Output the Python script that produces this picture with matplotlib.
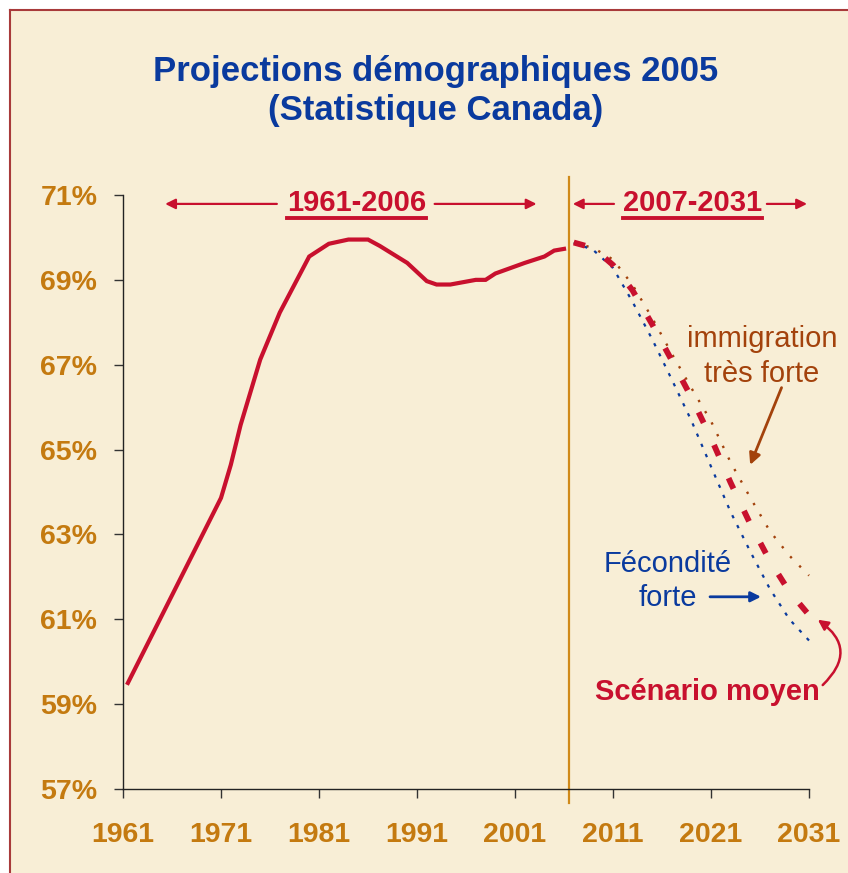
import matplotlib
matplotlib.use("Agg")
import matplotlib.pyplot as plt
import matplotlib.patches as patches
from matplotlib.lines import Line2D

plt.rcParams['font.family'] = ['Liberation Sans', 'DejaVu Sans']

# historical ratio (%), 1961-2006
hist_years = [1961.5, 1971, 1972, 1973, 1975, 1977, 1980, 1982, 1984, 1986,
              1987.2, 1990, 1992, 1993, 1994.4, 1997, 1998, 1999, 2002, 2004,
              2005, 2006]
hist_values = [59.5, 63.86, 64.64, 65.58, 67.12, 68.23, 69.55, 69.85, 69.95, 69.95,
               69.8, 69.4, 68.97, 68.89, 68.89, 69.0, 69.0, 69.15, 69.4, 69.55,
               69.69, 69.73]

# projections 2007-2031
proj_years = [2007, 2009, 2011, 2013, 2015, 2017, 2019, 2021, 2023, 2025, 2027, 2029, 2031]
moyen = [69.88, 69.75, 69.35, 68.75, 67.95, 67.1, 66.23, 65.27, 64.22, 63.25, 62.38, 61.65, 61.1]
immigration = [69.88, 69.75, 69.48, 68.88, 68.1, 67.26, 66.45, 65.67, 64.7, 63.87, 63.08, 62.5, 62.03]
fecondite = [69.88, 69.7, 69.28, 68.48, 67.6, 66.65, 65.68, 64.6, 63.53, 62.6, 61.72, 61.0, 60.5]

x_ticks = [1961, 1971, 1981, 1991, 2001, 2011, 2021, 2031]
y_ticks = [57, 59, 61, 63, 65, 67, 69, 71]

RED = '#C8102E'
BLUE = '#0A3A9E'
BROWN = '#A3420C'
ORANGE = '#C47A10'
BG = '#F8EED6'

W, H = 848, 873
fig = plt.figure(figsize=(W / 100, H / 100), dpi=100, facecolor='white')

# cream panel with dark red border on top / left (behind the axes)
fig.patches.append(patches.Rectangle((10 / W, 0), 1 - 10 / W, 1 - 10 / H,
                                     transform=fig.transFigure, fc=BG, ec='none', zorder=-5))
fig.lines.append(Line2D([10 / W, 10 / W], [0, 1 - 10 / H], transform=fig.transFigure,
                        color='#A83A3A', lw=1.5, zorder=-4))
fig.lines.append(Line2D([10 / W, 1], [1 - 10 / H, 1 - 10 / H], transform=fig.transFigure,
                        color='#A83A3A', lw=1.5, zorder=-4))

ax = fig.add_axes([123 / W, 1 - 789 / H, (809 - 123) / W, (789 - 195) / H])
ax.set_facecolor('none')
ax.set_xlim(1961, 2031)
ax.set_ylim(57, 71)

ax.plot(hist_years, hist_values, color=RED, lw=3, solid_joinstyle='miter')
ax.plot(proj_years, immigration, color=BROWN, lw=1.7, linestyle=(0, (1, 4.5)), clip_on=False)
ax.plot(proj_years, fecondite, color=BLUE, lw=1.6, linestyle=(0, (1.5, 3.5)), clip_on=False)
ax.plot(proj_years, moyen, color=RED, lw=4.2, linestyle=(0, (2, 4.2)), clip_on=False)

ax.axvline(2006.5, ymin=-0.024, ymax=1.03, color='#D08A1A', lw=1.6, clip_on=False)

for s in ['top', 'right']:
    ax.spines[s].set_visible(False)
for s in ['left', 'bottom']:
    ax.spines[s].set_color('#222222')
    ax.spines[s].set_linewidth(1.0)

ax.set_xticks(x_ticks)
ax.set_yticks(y_ticks)
ax.set_yticklabels(['{0}%'.format(v) for v in y_ticks])
ax.tick_params(axis='both', direction='out', length=6.5, width=1, color='#333333',
               labelcolor=ORANGE, labelsize=20.5)
ax.tick_params(axis='y', pad=12)
ax.tick_params(axis='x', pad=17)
for lab in ax.get_xticklabels() + ax.get_yticklabels():
    lab.set_fontweight('bold')

# title
fig.text(436 / W, 1 - 91 / H, 'Projections démographiques 2005\n(Statistique Canada)',
         ha='center', va='center', fontsize=25, fontweight='bold', color=BLUE,
         linespacing=1.25)

# period labels with arrows
t1 = ax.text(1984.8, 70.82, '1961-2006', ha='center', va='center', fontsize=21,
             fontweight='bold', color=RED)
t2 = ax.text(2019.1, 70.82, '2007-2031', ha='center', va='center', fontsize=21,
             fontweight='bold', color=RED)
arrow = dict(arrowstyle='-|>', color=RED, lw=1.6, mutation_scale=15, shrinkA=0, shrinkB=0)
for start, end in [(1976.7, 1965.3), (1992.8, 2003.2), (2011.1, 2006.9), (2026.7, 2030.8)]:
    ax.annotate('', xy=(end, 70.79), xytext=(start, 70.79), arrowprops=arrow,
                annotation_clip=False)

# series labels
ax.text(2026.2, 67.2, 'immigration\ntrès forte', ha='center', va='center',
        fontsize=21, color=BROWN, linespacing=1.3)
ax.annotate('', xy=(2025.0, 64.64), xytext=(2028.2, 66.46),
            arrowprops=dict(arrowstyle='-|>', color=BROWN, lw=2, mutation_scale=17,
                            shrinkA=0, shrinkB=0))

ax.text(2016.6, 61.9, 'Fécondité\nforte', ha='center', va='center',
        fontsize=21, color=BLUE, linespacing=1.3)
ax.annotate('', xy=(2026.1, 61.53), xytext=(2020.9, 61.53),
            arrowprops=dict(arrowstyle='-|>', color=BLUE, lw=2, mutation_scale=15,
                            shrinkA=0, shrinkB=0))

ax.text(2020.6, 59.29, 'Scénario moyen', ha='center', va='center',
        fontsize=21, fontweight='bold', color=RED)
ax.annotate('', xy=(2031.9, 60.99), xytext=(2032.4, 59.45),
            arrowprops=dict(arrowstyle='-|>', color=RED, lw=1.8, mutation_scale=15,
                            shrinkA=0, shrinkB=0, connectionstyle='arc3,rad=0.6'),
            annotation_clip=False)

# underline the period labels
fig.canvas.draw()
inv = fig.transFigure.inverted()
for t in [t1, t2]:
    bb = t.get_window_extent()
    (x0, y0), (x1, _) = inv.transform([(bb.x0, bb.y0 - 1), (bb.x1, bb.y0 - 1)])
    fig.lines.append(Line2D([x0, x1], [y0, y0], transform=fig.transFigure,
                            color=RED, lw=2.8))

plt.savefig('out.png', dpi=100, facecolor='white')
